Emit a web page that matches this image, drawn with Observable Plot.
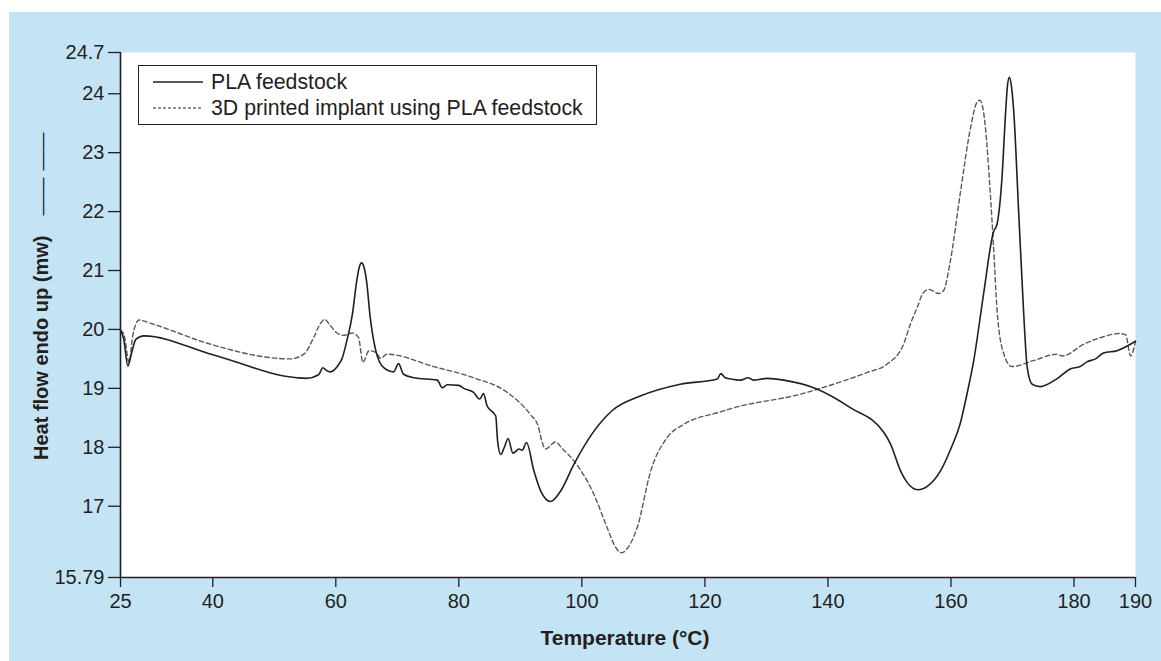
<!DOCTYPE html>
<html>
<head>
<meta charset="utf-8">
<script src="https://cdn.jsdelivr.net/npm/d3@7"></script>
<script src="https://cdn.jsdelivr.net/npm/@observablehq/plot@0.6"></script>
<style>
  html, body { margin: 0; padding: 0; background: #ffffff; }
  body { width: 1161px; height: 661px; position: relative; overflow: hidden;
         font-family: "Liberation Sans", Arial, Helvetica, sans-serif; color: #231f20; }
  #bg { position: absolute; left: 9px; top: 12px; right: 0; bottom: 0; background: #c4e4f6; }
  #chart { position: absolute; left: 0; top: 0; }
  #legend { position: absolute; left: 138px; top: 65px; width: 457px; height: 58px;
            border: 1.3px solid #231f20; background: #fff; font-size: 21.3px; }
  .row { position: absolute; left: 14px; height: 24px; display: flex; align-items: center; white-space: nowrap; }
  .row svg { width: 50px; height: 10px; margin-right: 8px; }
  #xlabel { position: absolute; left: 0; width: 1250px; top: 626px; text-align: center;
            font-weight: bold; font-size: 21px; }
</style>
</head>
<body>
<div id="bg"></div>
<div id="chart"></div>
<div id="legend"></div>
<div id="xlabel">Temperature (°C)</div>
<script>
// ---- data ----
const seriesNames = ["PLA feedstock", "3D printed implant using PLA feedstock"];

const tempPLA = [25,25.5,26.2,26.8,27.5,28.8,40,53.7,55.3,57.2,57.9,58.4,59.1,60.5,61.0,61.8,62.7,63.4,63.8,64.2,64.6,65.0,65.6,66.5,67.8,69.4,70.2,71.0,72.7,76.5,77.3,78.1,80.0,80.8,82.4,83.4,84.0,84.6,86.0,86.3,86.8,87.4,88.0,88.8,89.8,90.3,91.0,92.2,93.3,94.9,96.5,98.7,101.4,104.9,109.5,116.0,122.0,122.6,123.3,124.2,125.8,127.0,127.9,130.1,132.8,138.2,143.7,149.1,150.2,151.8,152.9,154.6,156.3,158.3,160.0,161.5,162.6,163.7,165.3,166.9,167.5,168.3,168.9,169.2,169.5,169.8,170.2,171.0,171.8,172.4,173.2,174.5,177.2,179.4,181.0,182.1,183.5,184.8,187.0,190];
const heatPLA = [19.99,19.85,19.38,19.6,19.83,19.89,19.57,19.18,19.17,19.23,19.35,19.31,19.28,19.41,19.50,19.81,20.26,20.82,21.05,21.13,21.05,20.82,20.20,19.64,19.35,19.28,19.42,19.24,19.18,19.14,19.01,19.06,19.05,19.00,18.93,18.82,18.91,18.70,18.53,18.11,17.88,18.0,18.15,17.90,17.97,17.95,18.08,17.60,17.26,17.08,17.25,17.71,18.19,18.62,18.87,19.07,19.16,19.25,19.18,19.16,19.14,19.18,19.14,19.17,19.14,18.99,18.67,18.25,18.05,17.60,17.40,17.28,17.35,17.60,17.98,18.40,18.90,19.47,20.60,21.65,21.79,22.58,23.71,24.15,24.28,24.15,23.71,22.01,20.32,19.35,19.07,19.03,19.16,19.33,19.37,19.45,19.50,19.60,19.64,19.80];

const tempImplant = [25,25.6,26.4,27.0,28.0,30,39.6,50.5,52.6,54.8,56.4,57.5,58.2,59.0,60.2,61.3,62.7,63.7,64.4,65.4,66.5,67.3,68.3,75.9,82.4,87.9,91.6,92.9,93.5,94.1,95.7,96.8,98.7,101.7,104.1,105.5,106.5,107.5,109.0,111.2,113.9,116.6,122.5,124.7,135.5,140.9,146.4,149.6,152.3,153.4,154.5,155.5,156.4,158.0,158.8,159.9,161.5,163.2,164.2,164.7,165.2,165.6,166.4,166.9,167.5,168.6,169.9,173.4,177.2,178.1,181.6,184.3,187.3,188.4,189.2,190];
const heatImplant = [19.99,19.9,19.44,19.9,20.16,20.10,19.75,19.51,19.50,19.58,19.86,20.10,20.17,20.08,19.94,19.90,19.94,19.86,19.44,19.64,19.61,19.51,19.58,19.37,19.18,18.93,18.56,18.36,18.10,17.97,18.09,17.98,17.77,17.26,16.64,16.30,16.21,16.30,16.64,17.60,18.17,18.39,18.60,18.67,18.90,19.07,19.27,19.41,19.75,20.09,20.37,20.62,20.68,20.61,20.66,21.16,22.30,23.43,23.85,23.89,23.75,23.43,22.30,21.45,20.32,19.58,19.37,19.47,19.58,19.55,19.75,19.86,19.93,19.91,19.55,19.80];

const xTicks = [25,40,60,80,100,120,140,160,180,190];
const yTicks = [15.79,17,18,19,20,21,22,23,24,24.7];
const xDomain = [25,190];
const yDomain = [15.79,24.7];

// ---- build table ----
const plaData = tempPLA.map((t,i) => ({t, h: heatPLA[i]}));
const implantData = tempImplant.map((t,i) => ({t, h: heatImplant[i]}));

const ink = "#231f20";
const grey = "#58595b";

const chart = Plot.plot({
  width: 1161,
  height: 661,
  marginLeft: 120,
  marginRight: 26,
  marginTop: 52,
  marginBottom: 84,
  style: {background: "transparent", fontFamily: "'Liberation Sans', Arial, sans-serif", fontSize: "20px", color: ink},
  x: {domain: xDomain},
  y: {domain: yDomain},
  marks: [
    Plot.frame({fill: "white", stroke: null}),
    Plot.ruleY([yDomain[0]], {stroke: ink, strokeWidth: 1.6}),
    Plot.ruleX([xDomain[0]], {stroke: ink, strokeWidth: 1.6}),
    Plot.axisX({ticks: xTicks, tickSize: 10, tickPadding: 6, label: null, fontSize: 20, stroke: ink, strokeWidth: 1.3}),
    Plot.axisY({ticks: yTicks, tickSize: 12, tickPadding: 4, label: null, fontSize: 20, stroke: ink, strokeWidth: 1.3, tickFormat: d => String(d)}),
    Plot.line(implantData, {x: "t", y: "h", stroke: grey, strokeWidth: 1.4, strokeDasharray: "4.5,3", curve: "monotone-x"}),
    Plot.line(plaData, {x: "t", y: "h", stroke: ink, strokeWidth: 1.6, curve: "monotone-x"})
  ]
});
document.getElementById("chart").appendChild(chart);

// y-axis title with its line-style key
const svg = d3.select(chart);
const yt = svg.append("text")
  .attr("transform", "translate(48,460) rotate(-90)")
  .attr("text-anchor", "start")
  .attr("fill", ink)
  .style("font-family", "'Liberation Sans', Arial, sans-serif")
  .style("font-size", "20px")
  .style("font-weight", "bold");
yt.append("tspan").text("Heat flow endo up (mw)");
yt.append("tspan").attr("dx", 20).style("font-weight", "normal").style("font-size", "19px").text("——");
yt.append("tspan").attr("dx", 7).style("font-weight", "normal").style("font-size", "19px").text("——");

// legend
const legend = document.getElementById("legend");
const dashes = [null, "3,2"];
seriesNames.forEach((name, i) => {
  const row = document.createElement("div");
  row.className = "row";
  row.style.top = (4 + i * 26) + "px";
  row.innerHTML = `<svg viewBox="0 0 50 10"><line x1="0" x2="50" y1="5" y2="5" stroke="${ink}" stroke-width="${i ? 1 : 1.4}" ${dashes[i] ? `stroke-dasharray="${dashes[i]}"` : ""}/></svg><span>${name}</span>`;
  legend.appendChild(row);
});
</script>
</body>
</html>
